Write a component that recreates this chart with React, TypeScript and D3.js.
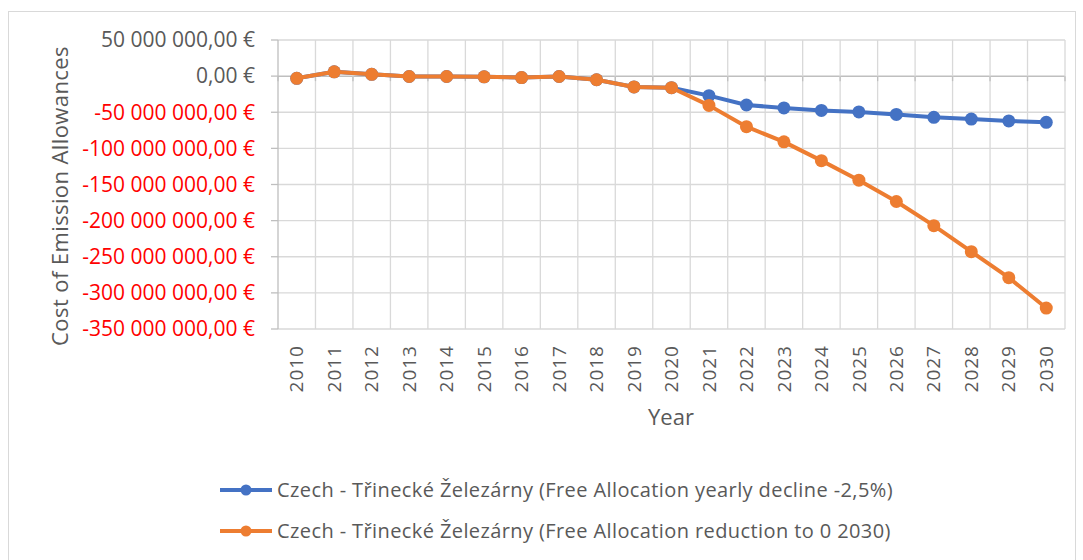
import * as React from 'react';
import * as d3 from 'd3';

const years = ['2010', '2011', '2012', '2013', '2014', '2015', '2016', '2017', '2018', '2019', '2020',
  '2021', '2022', '2023', '2024', '2025', '2026', '2027', '2028', '2029', '2030'];

// values in million €
const declineSeries = [-3, 6, 2.5, -0.5, -0.5, -1, -2, -0.5, -5, -15, -16,
  -27, -40, -44, -47.5, -49.5, -53, -57, -59.5, -62, -64];
const zeroSeries = [-3, 6, 2.5, -0.5, -0.5, -1, -2, -0.5, -5, -15, -16,
  -40.5, -70, -91, -117, -144, -173.5, -207, -243, -279, -321];

const yTicks = [50, 0, -50, -100, -150, -200, -250, -300, -350];

const seriesNames = [
  'Czech - Třinecké Železárny (Free Allocation yearly decline -2,5%)',
  'Czech - Třinecké Železárny (Free Allocation reduction to 0 2030)',
];

const BLUE = '#4472C4';
const ORANGE = '#ED7D31';
const FONT = '"Open Sans", sans-serif';

const euro = d3.formatLocale({
  decimal: ',',
  thousands: ' ',
  grouping: [3],
  currency: ['', ' €'],
  minus: '-',
}).format('$,.2f');

export default function App() {
  const width = 1083;
  const height = 560;
  const plot = { left: 278, right: 1065, top: 40, bottom: 329 };

  const x = d3.scaleBand<string>().domain(years).range([plot.left, plot.right]).padding(0);
  const y = d3.scaleLinear().domain([-350, 50]).range([plot.bottom, plot.top]);
  const cx = (yr: string) => (x(yr) ?? 0) + x.bandwidth() / 2;

  const line = d3.line<number>()
    .x((_, i) => cx(years[i]))
    .y(d => y(d));

  const series = [
    { name: seriesNames[0], values: declineSeries, color: BLUE },
    { name: seriesNames[1], values: zeroSeries, color: ORANGE },
  ];

  const bounds = years.map(yr => x(yr) ?? 0).concat([plot.right]);

  return (
    <svg width={width} height={height} style={{ position: 'absolute', left: 0, top: 0, background: '#fff' }}
      fontFamily={FONT}>
      <rect x={8.5} y={11.5} width={1067} height={560} fill="#fff" stroke="#D9D9D9" strokeWidth={1} />

      {/* grid */}
      {yTicks.map(t => (
        <line key={'h' + t} x1={plot.left} x2={plot.right} y1={y(t)} y2={y(t)}
          stroke={t === 0 ? '#BFBFBF' : '#D9D9D9'} strokeWidth={t === 0 ? 1.5 : 1.3} />
      ))}
      {bounds.map((b, i) => (
        <line key={'v' + i} x1={b} x2={b} y1={plot.top} y2={plot.bottom}
          stroke={i === 0 ? '#BFBFBF' : '#D9D9D9'} strokeWidth={1.3} />
      ))}
      {/* tick marks */}
      {yTicks.map(t => (
        <line key={'yt' + t} x1={plot.left - 7} x2={plot.left} y1={y(t)} y2={y(t)} stroke="#BFBFBF" strokeWidth={1.3} />
      ))}
      {bounds.map((b, i) => (
        <line key={'xt' + i} x1={b} x2={b} y1={y(0)} y2={y(0) + 5} stroke="#BFBFBF" strokeWidth={1.3} />
      ))}

      {/* y labels */}
      {yTicks.map(t => (
        <text key={'yl' + t} x={plot.left - 23} y={y(t)} dy="0.35em" textAnchor="end" fontSize={21}
          fill={t < 0 ? '#FF0000' : '#595959'}>{euro(t * 1e6)}</text>
      ))}

      {/* x labels */}
      {years.map(yr => (
        <text key={'xl' + yr} transform={`translate(${cx(yr)},345) rotate(-90)`} dy="0.35em" textAnchor="end"
          fontSize={19} fill="#595959" letterSpacing={1}>{yr}</text>
      ))}

      <text x={671} y={417} dy="0.35em" textAnchor="middle" fontSize={22} fill="#595959">Year</text>
      <text transform="translate(60,196) rotate(-90)" dy="0.35em" textAnchor="middle" fontSize={22}
        letterSpacing={0.4} fill="#595959">
        Cost of Emission Allowances
      </text>

      {/* series */}
      {series.map(s => (
        <g key={s.name}>
          <path d={line(s.values) ?? ''} fill="none" stroke={s.color} strokeWidth={4} strokeLinejoin="round" />
          {s.values.map((v, i) => (
            <circle key={i} cx={cx(years[i])} cy={y(v)} r={6.5} fill={s.color} />
          ))}
        </g>
      ))}

      {/* legend */}
      {series.map((s, i) => {
        const ly = 490 + i * 41;
        return (
          <g key={'lg' + i}>
            <line x1={220} x2={272} y1={ly} y2={ly} stroke={s.color} strokeWidth={4} />
            <circle cx={246} cy={ly} r={5.5} fill={s.color} />
            <text x={277} y={ly} dy="0.35em" fontSize={20} letterSpacing={0.4} fill="#595959">{s.name}</text>
          </g>
        );
      })}
    </svg>
  );
}
